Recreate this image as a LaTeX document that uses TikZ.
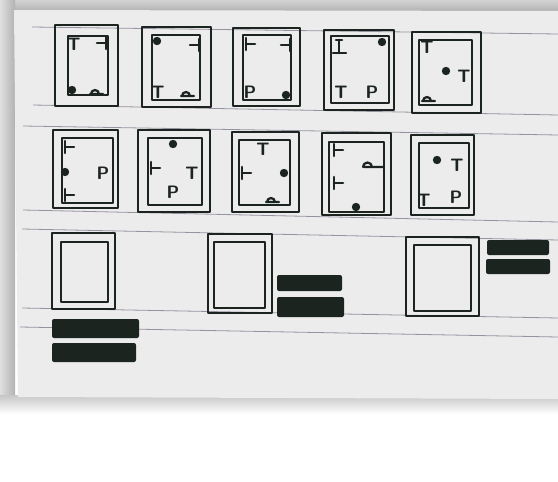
\documentclass[tikz,border=0pt]{standalone}
\usetikzlibrary{shadings}
\definecolor{inkc}{RGB}{28,36,32}
\definecolor{paperc}{RGB}{236,236,236}
\definecolor{rulec}{RGB}{150,146,160}
\begin{document}
\begin{tikzpicture}[x=1pt,y=-1pt,
  pen/.style={draw=inkc,line width=2.6pt,line cap=round,line join=round},
  outerfr/.style={draw=inkc,line width=2.8pt,line join=round},
  innerfr/.style={draw=inkc,line width=2.1pt,line join=round},
  rulel/.style={draw=rulec,line width=0.8pt},
  lbl/.style={font=\fontsize{18}{18}\selectfont\sffamily\bfseries,text=inkc,inner sep=0pt},
  bar/.style={fill=inkc,rounded corners=2pt}]
\newcommand\dotm[1]{\fill[inkc] #1 circle[radius=4.2pt];}
\newcommand\teeR[1]{\draw[pen] #1 ++(0,-6) -- ++(0,12) ++(0,-6) -- ++(9,0);}
\newcommand\teeL[1]{\draw[pen] #1 ++(0,-6) -- ++(0,12) ++(0,-6) -- ++(-9,0);}
\newcommand\arcm[1]{\draw[pen,line width=2.2pt] #1 ++(-6,5) -- ++(13,0) ++(-4,0) arc[start angle=0,end angle=180,radius=4pt];}
\useasboundingbox (0,0) rectangle (558,482);
% background and shadows
\fill[white] (0,0) rectangle (558,482);
\shade[top color=gray!35,bottom color=gray!60] (0,0) rectangle (558,11);
\shade[left color=gray!25,right color=gray!60] (0,0) rectangle (15,395);
\shade[top color=gray!45,bottom color=white] (0,395) rectangle (558,414);
\fill[paperc] (14,10) -- (558,11) -- (558,399) -- (18,397) -- cycle;
% ruled lines
\draw[rulel] (32,27) -- (558,34);
\draw[rulel] (33,105) -- (558,115);
\draw[rulel] (23,126) -- (558,135);
\draw[rulel] (23,210) -- (558,222);
\draw[rulel] (22,229) -- (558,240);
\draw[rulel] (22,308) -- (558,318);
\draw[rulel] (20,327) -- (558,337);
% ---- row 1
\draw[outerfr] (55,25) rectangle (118,106);
\draw[innerfr] (68,36) rectangle (108,95);
\node[lbl] (t1) at (74,44) {T};
\teeL{(106,43)}
\dotm{(72,90)}
\arcm{(96,89)}
\draw[outerfr] (142,27) rectangle (211,107);
\draw[innerfr] (152,35) rectangle (200,100);
\dotm{(157,41)}
\teeL{(199,45)}
\node[lbl] (t2) at (158,92) {T};
\arcm{(187,91)}
\draw[outerfr] (233,28) rectangle (300,106);
\draw[innerfr] (243,35) rectangle (291,100);
\teeR{(246,44)}
\teeL{(290,45)}
\node[lbl] (p3) at (250,92) {P};
\dotm{(286,95)}
\draw[outerfr] (324,30) rectangle (394,110);
\draw[innerfr] (331,36) rectangle (389,103);
\draw[pen] (339,40) -- (339,53) (333,53) -- (346,53) (336,40) -- (342,40);
\dotm{(382,42)}
\node[lbl] (t4) at (341,92) {T};
\node[lbl] (p4) at (372,92) {P};
\draw[outerfr] (412,32) rectangle (481,113);
\draw[innerfr] (419,40) rectangle (472,105);
\node[lbl] (t5) at (427,47) {T};
\dotm{(446,71)}
\node[lbl] (t5b) at (464,76) {T};
\arcm{(428,96)}
% ---- row 2
\draw[outerfr] (53,130) rectangle (118,208);
\draw[innerfr] (62,138) rectangle (113,203);
\teeR{(65,147)}
\dotm{(65,172)}
\node[lbl] (p6) at (103,173) {P};
\teeR{(65,195)}
\draw[outerfr] (138,130) rectangle (210,212);
\draw[innerfr] (148,138) rectangle (202,205);
\dotm{(173,144)}
\teeR{(151,168)}
\node[lbl] (t7) at (192,173) {T};
\node[lbl] (p7) at (173,192) {P};
\draw[outerfr] (232,132) rectangle (299,212);
\draw[innerfr] (239,140) rectangle (290,205);
\node[lbl] (t8) at (263,149) {T};
\teeR{(242,173)}
\dotm{(284,173)}
\arcm{(272,197)}
\draw[outerfr] (322,133) rectangle (391,215);
\draw[innerfr] (329,142) rectangle (384,212);
\teeR{(334,150)}
\draw[pen,line width=2.2pt] (364,167) -- (384,167) (372,167) arc[start angle=0,end angle=180,radius=4.5pt];
\teeR{(334,183)}
\dotm{(356,207)}
\draw[outerfr] (411,135) rectangle (474,215);
\draw[innerfr] (419,143) rectangle (469,208);
\dotm{(437,160)}
\node[lbl] (t10) at (457,165) {T};
\node[lbl] (t10b) at (424,200) {T};
\node[lbl] (p10) at (456,197) {P};
% ---- row 3
\draw[outerfr] (52,233) rectangle (115,309);
\draw[innerfr] (61,242) rectangle (108,302);
\fill[bar] (52,319) rectangle (139,338);
\fill[bar] (52,343) rectangle (136,362);
\draw[outerfr] (208,234) rectangle (272,313);
\draw[innerfr] (214,242) rectangle (265,308);
\fill[bar] (277,275) rectangle (342,291);
\fill[bar] (277,297) rectangle (344,317);
\draw[outerfr] (406,237) rectangle (479,316);
\draw[innerfr] (414,245) rectangle (471,311);
\fill[bar] (487,240) rectangle (549,255);
\fill[bar] (486,259) rectangle (550,274);
\end{tikzpicture}
\end{document}
